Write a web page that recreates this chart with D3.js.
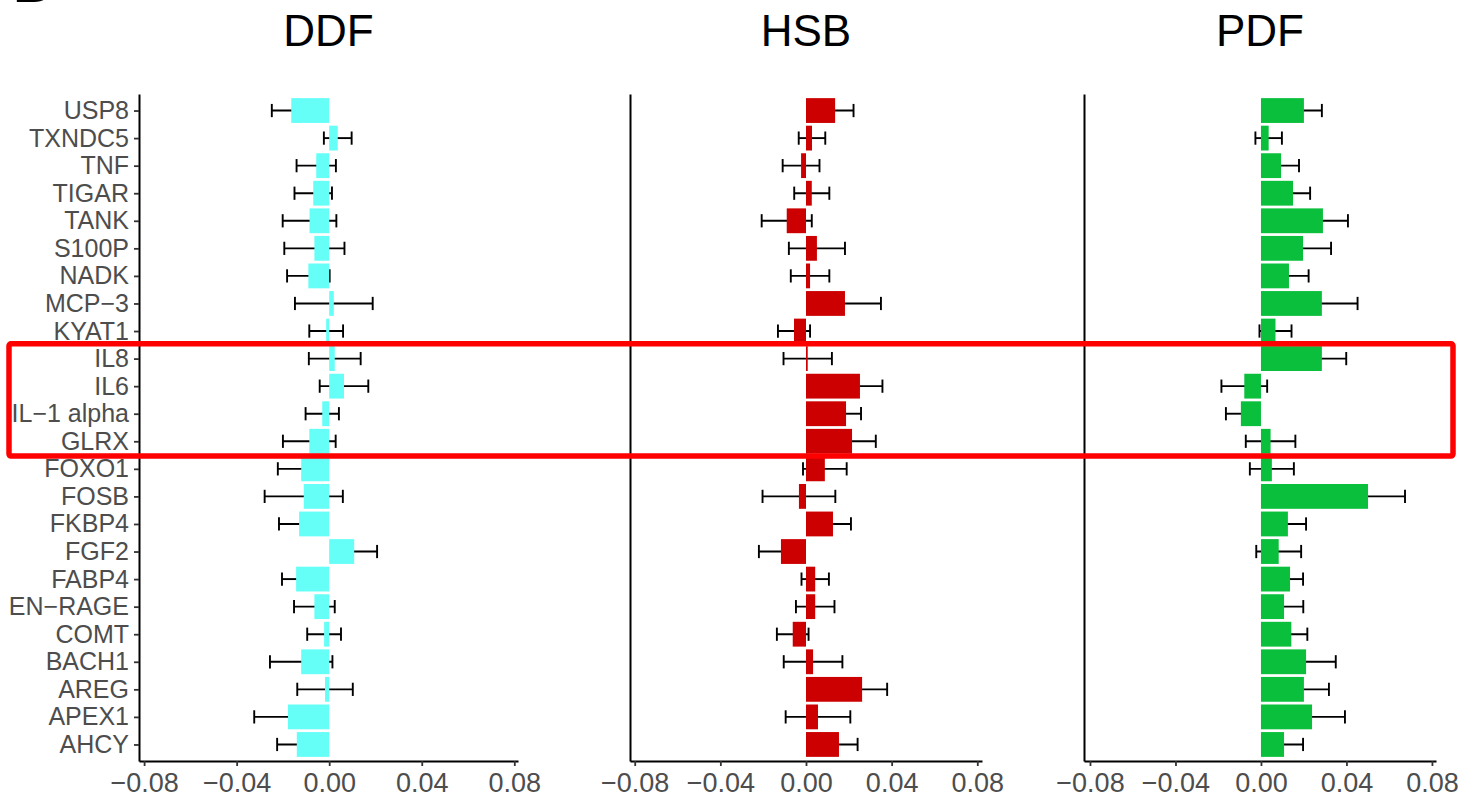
<!DOCTYPE html>
<html>
<head>
<meta charset="utf-8">
<script src="https://cdn.jsdelivr.net/npm/d3@7"></script>
<style>
  html, body { margin: 0; padding: 0; background: #ffffff; }
  svg { display: block; font-family: "Liberation Sans", Arial, sans-serif; }
</style>
</head>
<body>
<svg id="chart" width="1472" height="803"></svg>
<script>
// Proteins, top to bottom
const categories = ["USP8", "TXNDC5", "TNF", "TIGAR", "TANK", "S100P", "NADK", "MCP−3", "KYAT1",
  "IL8", "IL6", "IL−1 alpha", "GLRX", "FOXO1", "FOSB", "FKBP4", "FGF2", "FABP4", "EN−RAGE",
  "COMT", "BACH1", "AREG", "APEX1", "AHCY"];

// Group titles
const groups = ["DDF", "HSB", "PDF"];

// Estimated effect (mean) and standard error per protein, one pair of arrays per group
const ddfMean = [-0.0164, 0.0037, -0.0056, -0.0069, -0.0085, -0.0064, -0.0090, 0.0020, -0.0013,
  0.0024, 0.0064, -0.0030, -0.0086, -0.0121, -0.0110, -0.0130, 0.0108, -0.0143, -0.0064,
  -0.0022, -0.0121, -0.0018, -0.0178, -0.0140];
const ddfSe = [0.0084, 0.0060, 0.0085, 0.0081, 0.0116, 0.0130, 0.0092, 0.0168, 0.0073,
  0.0112, 0.0105, 0.0072, 0.0114, 0.0101, 0.0169, 0.0087, 0.0099, 0.0061, 0.0088,
  0.0073, 0.0135, 0.0120, 0.0146, 0.0085];

const hsbMean = [0.0136, 0.0028, -0.0023, 0.0027, -0.0090, 0.0051, 0.0019, 0.0182, -0.0056,
  0.0008, 0.0252, 0.0187, 0.0215, 0.0088, -0.0033, 0.0126, -0.0117, 0.0043, 0.0043,
  -0.0062, 0.0033, 0.0262, 0.0056, 0.0154];
const hsbSe = [0.0086, 0.0062, 0.0086, 0.0082, 0.0117, 0.0131, 0.0090, 0.0168, 0.0075,
  0.0113, 0.0105, 0.0070, 0.0111, 0.0102, 0.0170, 0.0084, 0.0103, 0.0064, 0.0090,
  0.0074, 0.0137, 0.0117, 0.0151, 0.0087];

const pdfMean = [0.0201, 0.0036, 0.0094, 0.0150, 0.0290, 0.0197, 0.0131, 0.0285, 0.0068,
  0.0285, -0.0078, -0.0094, 0.0045, 0.0051, 0.0501, 0.0126, 0.0083, 0.0136, 0.0108,
  0.0142, 0.0211, 0.0201, 0.0239, 0.0108];
const pdfSe = [0.0084, 0.0062, 0.0084, 0.0080, 0.0117, 0.0131, 0.0092, 0.0167, 0.0075,
  0.0114, 0.0107, 0.0070, 0.0116, 0.0103, 0.0173, 0.0085, 0.0105, 0.0061, 0.0090,
  0.0075, 0.0139, 0.0117, 0.0154, 0.0089];

// Axis tick values
const xTicks = [-0.08, -0.04, 0.00, 0.04, 0.08];

// Panel layout and colours
const panels = [
  { name: groups[0], mean: ddfMean, se: ddfSe, color: "#66FFF8", domain: [-0.0822, 0.0816], range: [139, 518], labels: true },
  { name: groups[1], mean: hsbMean, se: hsbSe, color: "#CC0000", domain: [-0.0822, 0.0822], range: [630, 982], labels: false },
  { name: groups[2], mean: pdfMean, se: pdfSe, color: "#0ABF3B", domain: [-0.0828, 0.0819], range: [1084, 1436], labels: false }
];

const svg = d3.select("#chart");
const plotTop = 94, plotBottom = 761;

const y = d3.scalePoint().domain(categories).range([plotTop, plotBottom]).padding(0.6);
const step = y.step();
const barH = step * 0.9;
const capH = step * 0.48;

const fmt = v => (v < 0 ? "\u2212" : "") + Math.abs(v).toFixed(2);

// Panel letter, clipped by the top edge
svg.append("text")
  .attr("x", 16).attr("y", 2)
  .attr("font-family", "'Liberation Serif', 'DejaVu Serif', serif")
  .attr("font-weight", "bold")
  .attr("font-size", 50)
  .attr("fill", "#000")
  .text("B");

panels.forEach(p => {
  const x = d3.scaleLinear().domain(p.domain).range(p.range);
  const g = svg.append("g");
  const rows = categories.map((c, i) => ({ cat: c, mean: p.mean[i], se: p.se[i] }));

  // title
  g.append("text")
    .attr("x", (p.range[0] + p.range[1]) / 2)
    .attr("y", 46)
    .attr("text-anchor", "middle")
    .attr("font-size", 44)
    .attr("fill", "#000")
    .text(p.name);

  // error bars (drawn beneath the bars)
  const eb = g.append("g").attr("stroke", "#000").attr("stroke-width", 1.9).attr("fill", "none");
  rows.forEach(d => {
    const cy = y(d.cat);
    const x0 = x(d.mean - d.se), x1 = x(d.mean + d.se);
    eb.append("line").attr("x1", x0).attr("x2", x1).attr("y1", cy).attr("y2", cy);
    eb.append("line").attr("x1", x0).attr("x2", x0).attr("y1", cy - capH / 2).attr("y2", cy + capH / 2);
    eb.append("line").attr("x1", x1).attr("x2", x1).attr("y1", cy - capH / 2).attr("y2", cy + capH / 2);
  });

  // bars
  g.append("g").selectAll("rect")
    .data(rows)
    .join("rect")
    .attr("x", d => Math.min(x(0), x(d.mean)))
    .attr("width", d => Math.abs(x(d.mean) - x(0)))
    .attr("y", d => y(d.cat) - barH / 2)
    .attr("height", barH)
    .attr("fill", p.color);

  // x axis
  const xa = g.append("g")
    .attr("transform", `translate(0,${plotBottom})`)
    .call(d3.axisBottom(x).tickValues(xTicks).tickFormat(fmt).tickSize(5).tickSizeOuter(0).tickPadding(7));
  xa.select(".domain").attr("stroke", "#000").attr("stroke-width", 2);
  xa.selectAll(".tick line").attr("stroke", "#333").attr("stroke-width", 1.8);
  xa.selectAll(".tick text").attr("font-size", 27).attr("fill", "#4D4D4D")
    .attr("font-family", "'Liberation Sans', Arial, sans-serif");

  // y axis
  const ya = g.append("g").attr("transform", `translate(${p.range[0]},0)`);
  if (p.labels) {
    ya.call(d3.axisLeft(y).tickSize(5).tickSizeOuter(0).tickPadding(5));
    ya.selectAll(".tick line").attr("stroke", "#333").attr("stroke-width", 1.8);
    ya.selectAll(".tick text").attr("font-size", 25).attr("fill", "#4D4D4D")
      .attr("font-family", "'Liberation Sans', Arial, sans-serif");
  } else {
    ya.call(d3.axisLeft(y).tickValues([]).tickSizeOuter(0));
  }
  ya.select(".domain").attr("stroke", "#000").attr("stroke-width", 2);
});

// highlight box around the interleukin rows
const boxTop = y("IL8") - step / 2 - 1;
const boxBottom = y("GLRX") + step / 2 + 1;
svg.append("rect")
  .attr("x", 9).attr("y", boxTop)
  .attr("width", 1444).attr("height", boxBottom - boxTop)
  .attr("rx", 2)
  .attr("fill", "none")
  .attr("stroke", "#FF0000")
  .attr("stroke-width", 5.5);
</script>
</body>
</html>
